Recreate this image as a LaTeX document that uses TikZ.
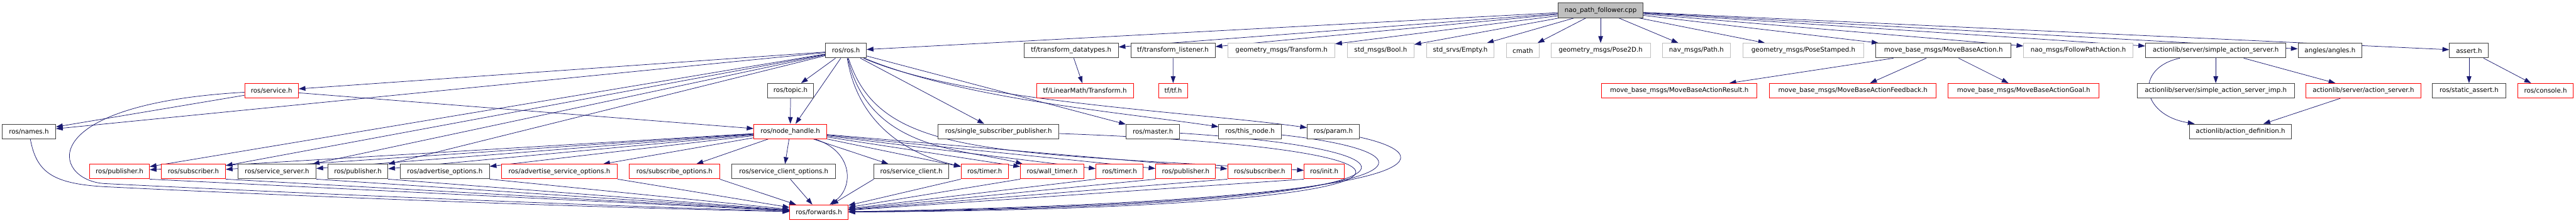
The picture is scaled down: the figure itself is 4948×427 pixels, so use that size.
\documentclass[tikz,border=0pt]{standalone}
\usepackage{fontspec}
\setmainfont{DejaVu Sans}
\usetikzlibrary{arrows.meta,backgrounds}
\definecolor{edgeblue}{HTML}{191970}
\definecolor{docgray}{HTML}{BFBFBF}
\definecolor{docdark}{HTML}{404040}
\begin{document}
\begin{tikzpicture}[x=1pt,y=-1pt,>={Triangle[length=13pt,width=9pt]},
  hfile/.style={draw=docdark,fill=white,line width=1.2pt,inner sep=0pt,minimum height=28pt,
    font=\fontsize{12.4}{14}\selectfont},
  redfile/.style={hfile,draw=red},
  extfile/.style={hfile,draw=docgray},
  dep/.style={->,draw=edgeblue,line width=0.9pt}]
\useasboundingbox (0,0) rectangle (4948,427);
% top row
\node[hfile,fill=docgray,minimum width=163pt] (root) at (3074.5,20) {nao\_path\_follower.cpp};
\node[hfile,minimum width=78pt] (ros) at (1625,97) {ros/ros.h};
\node[hfile,minimum width=181pt] (tfdt) at (2057.5,97) {tf/transform\_datatypes.h};
\node[hfile,minimum width=162pt] (tfl) at (2253,97) {tf/transform\_listener.h};
\node[extfile,minimum width=205pt] (gmtf) at (2461.5,97) {geometry\_msgs/Transform.h};
\node[extfile,minimum width=128pt] (bool) at (2652,97) {std\_msgs/Bool.h};
\node[extfile,minimum width=130pt] (empty) at (2805,97) {std\_srvs/Empty.h};
\node[extfile,minimum width=62pt] (cmath) at (2925,97) {cmath};
\node[extfile,minimum width=191pt] (pose2d) at (3074.5,97) {geometry\_msgs/Pose2D.h};
\node[extfile,minimum width=131pt] (path) at (3258.5,97) {nav\_msgs/Path.h};
\node[extfile,minimum width=232pt] (posest) at (3464,97) {geometry\_msgs/PoseStamped.h};
\node[hfile,minimum width=260pt] (mba) at (3733,97) {move\_base\_msgs/MoveBaseAction.h};
\node[extfile,minimum width=210pt] (fpa) at (3992,97) {nao\_msgs/FollowPathAction.h};
\node[hfile,minimum width=270pt] (sas) at (4256,97) {actionlib/server/simple\_action\_server.h};
\node[hfile,minimum width=123pt] (angles) at (4475.5,97) {angles/angles.h};
\node[hfile,minimum width=75pt] (assert) at (4742.5,97) {assert.h};
% second row
\node[redfile,minimum width=103pt] (service) at (521.5,174) {ros/service.h};
\node[hfile,minimum width=89pt] (topic) at (1518.5,174) {ros/topic.h};
\node[redfile,minimum width=186pt] (lmtf) at (2084,174) {tf/LinearMath/Transform.h};
\node[redfile,minimum width=55pt] (tf) at (2253.5,174) {tf/tf.h};
\node[redfile,minimum width=299pt] (mbres) at (3225.5,174) {move\_base\_msgs/MoveBaseActionResult.h};
\node[redfile,minimum width=320pt] (mbfb) at (3559,174) {move\_base\_msgs/MoveBaseActionFeedback.h};
\node[redfile,minimum width=290pt] (mbgoal) at (3887,174) {move\_base\_msgs/MoveBaseActionGoal.h};
\node[hfile,minimum width=302pt] (sasimp) at (4256,174) {actionlib/server/simple\_action\_server\_imp.h};
\node[redfile,minimum width=221pt] (as) at (4539.5,174) {actionlib/server/action\_server.h};
\node[hfile,minimum width=141pt] (sassert) at (4742.5,174) {ros/static\_assert.h};
\node[redfile,minimum width=107pt] (console) at (4889.5,174) {ros/console.h};
% third row
\node[hfile,minimum width=103pt] (names) at (55.5,252) {ros/names.h};
\node[redfile,minimum width=140pt] (nh) at (1518,252) {ros/node\_handle.h};
\node[hfile,minimum width=232pt] (ssp) at (1918,252) {ros/single\_subscriber\_publisher.h};
\node[hfile,minimum width=103pt] (master) at (2214.5,252) {ros/master.h};
\node[hfile,minimum width=120pt] (thisnode) at (2401,252) {ros/this\_node.h};
\node[hfile,minimum width=100pt] (param) at (2561,252) {ros/param.h};
\node[hfile,minimum width=195pt] (actdef) at (4303.5,252) {actionlib/action\_definition.h};
% fourth row
\node[redfile,minimum width=115pt] (pubA) at (229.5,329) {ros/publisher.h};
\node[redfile,minimum width=123pt] (subA) at (371.5,329) {ros/subscriber.h};
\node[hfile,minimum width=150pt] (srvs) at (532,329) {ros/service\_server.h};
\node[hfile,minimum width=115pt] (pubB) at (687.5,329) {ros/publisher.h};
\node[hfile,minimum width=171pt] (advo) at (854.5,329) {ros/advertise\_options.h};
\node[redfile,minimum width=223pt] (advso) at (1074.5,329) {ros/advertise\_service\_options.h};
\node[redfile,minimum width=173pt] (subo) at (1295.5,329) {ros/subscribe\_options.h};
\node[hfile,minimum width=199pt] (sco) at (1505.5,329) {ros/service\_client\_options.h};
\node[hfile,minimum width=143pt] (sc) at (1750.5,329) {ros/service\_client.h};
\node[redfile,minimum width=91pt] (timerA) at (1891.5,329) {ros/timer.h};
\node[redfile,minimum width=122pt] (wtimer) at (2021,329) {ros/wall\_timer.h};
\node[redfile,minimum width=91pt] (timerB) at (2150.5,329) {ros/timer.h};
\node[redfile,minimum width=115pt] (pubC) at (2277.5,329) {ros/publisher.h};
\node[redfile,minimum width=123pt] (subC) at (2419.5,329) {ros/subscriber.h};
\node[redfile,minimum width=77pt] (init) at (2543.5,329) {ros/init.h};
% bottom
\node[redfile,minimum width=112pt] (fwd) at (1573,407) {ros/forwards.h};

\begin{scope}[on background layer]
\foreach \t in {ros,tfdt,tfl,gmtf,bool,empty,cmath,pose2d,path,posest,mba,fpa,sas,angles,assert}
  \draw[dep] (root) -- (\t);
\draw[dep] (tfdt) -- (lmtf);
\draw[dep] (tfl) -- (tf);
\foreach \t in {mbres,mbfb,mbgoal}
  \draw[dep] (mba) -- (\t);
\draw[dep] (sas) -- (sasimp);
\draw[dep] (sas) -- (as);
\draw[dep] (sas) .. controls (4100,130) and (4110,220) .. ([xshift=10pt]actdef.north west);
\draw[dep] (as) -- (actdef);
\draw[dep] (assert) -- (sassert);
\draw[dep] (assert) -- (console);

\foreach \t in {names,service,topic,nh,ssp,master,pubA,subA,srvs,pubB}
  \draw[dep] (ros) -- (\t);
\draw[dep] (ros) .. controls (1850,190) and (2150,215) .. (thisnode);
\draw[dep] (ros) .. controls (1850,195) and (2300,215) .. (param);
\draw[dep] (ros) .. controls (1650,250) and (1760,300) .. (timerA);
\draw[dep] (ros) .. controls (1670,290) and (1850,285) .. (wtimer);
\draw[dep] (ros) .. controls (1690,300) and (1900,290) .. (init);
\draw[dep] (service) -- (names);
\draw[dep] (service) -- (nh);
\draw[dep] (service) .. controls (60,200) and (100,345) .. (200,352)
  .. controls (400,362) and (1000,390) .. (fwd);
\draw[dep] (topic) -- (nh);
\foreach \t in {pubA,subA,srvs,pubB,advo,advso,subo,sco,sc,timerA,wtimer,timerB,pubC,subC}
  \draw[dep] (nh) -- (\t);
\draw[dep] (nh) .. controls (1640,290) and (1640,360) .. (fwd);
\draw[dep] (names) .. controls (70,330) and (100,352) .. (200,358)
  .. controls (400,368) and (1000,395) .. (fwd);
\foreach \t in {pubA,subA,srvs,pubB,advo,advso,subo}
  \draw[dep] (\t.south east) -- (fwd);
\draw[dep] (sco) -- (fwd);
\foreach \t in {sc,timerA,wtimer,timerB,pubC,subC,init}
  \draw[dep] (\t.south west) -- (fwd);
\draw[dep] (ssp) .. controls (2850,285) and (2850,400) .. (fwd);
\draw[dep] (master) .. controls (2810,290) and (2800,395) .. (fwd);
\draw[dep] (thisnode) .. controls (2790,295) and (2780,390) .. (fwd);
\draw[dep] (param) .. controls (2780,300) and (2770,385) .. (fwd);
\end{scope}
\end{tikzpicture}
\end{document}
